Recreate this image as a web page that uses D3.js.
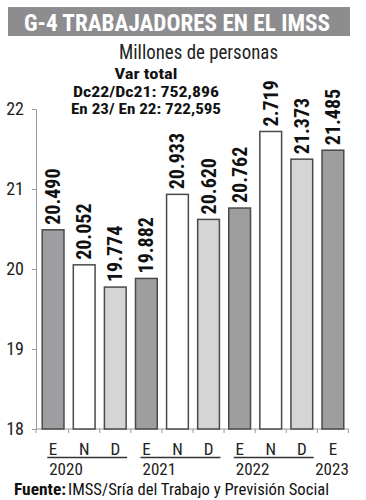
<!DOCTYPE html>
<html>
<head>
<meta charset="utf-8">
<script src="https://cdn.jsdelivr.net/npm/d3@7"></script>
<style>
  body { margin: 0; background: #fff; }
  svg { display: block; }
</style>
</head>
<body>
<svg id="chart"></svg>
<script>
// data
const months = ["E", "N", "D", "E", "N", "D", "E", "N", "D", "E"];
const values = [20.490, 20.052, 19.774, 19.882, 20.933, 20.620, 20.762, 21.719, 21.373, 21.485];
const valueLabels = ["20.490", "20.052", "19.774", "19.882", "20.933", "20.620", "20.762", "2.719", "21.373", "21.485"];
const years = ["2020", "2021", "2022", "2023"];
const yearFirst = [0, 3, 6, 9];
const yearLast = [2, 5, 8, 9];
const yTicks = [18, 19, 20, 21, 22];
const noteLines = ["Var total", "Dc22/Dc21: 752,896", "En 23/ En 22: 722,595"];

const w = 366, h = 500;
const narrow = "'Liberation Sans Narrow', 'Roboto Condensed', 'DejaVu Sans Condensed', sans-serif";
const fillFor = { E: "#9e9ea0", N: "#ffffff", D: "#d5d5d7" };

const svg = d3.select("#chart").attr("width", w).attr("height", h);

// title bar
svg.append("rect")
    .attr("x", 8).attr("y", 7)
    .attr("width", 342).attr("height", 29)
    .attr("fill", "#8d8d8f");

svg.append("text")
    .attr("x", 24).attr("y", 31)
    .attr("font-family", narrow)
    .attr("font-weight", "bold")
    .attr("font-size", 24)
    .attr("fill", "#fff")
    .attr("textLength", 306)
    .attr("lengthAdjust", "spacingAndGlyphs")
    .text("G-4 TRABAJADORES EN EL IMSS");

svg.append("text")
    .attr("x", 119).attr("y", 59)
    .attr("font-family", narrow)
    .attr("font-size", 20)
    .attr("fill", "#222")
    .attr("textLength", 159)
    .attr("lengthAdjust", "spacingAndGlyphs")
    .text("Millones de personas");

const noteWidths = [63, 146, 150];
svg.append("g")
    .selectAll("text")
    .data(noteLines)
    .join("text")
    .attr("x", (d, i) => 146 - noteWidths[i] / 2)
    .attr("y", (d, i) => 79 + i * 17.5)
    .attr("font-family", narrow)
    .attr("font-weight", "bold")
    .attr("font-size", 15)
    .attr("fill", "#111")
    .attr("textLength", (d, i) => noteWidths[i])
    .attr("lengthAdjust", "spacingAndGlyphs")
    .text(d => d);

// scales
const margin = { top: 109, right: 16, bottom: 71, left: 36 };

const xScale = d3.scaleBand()
    .domain(d3.range(values.length))
    .range([margin.left, w - margin.right])
    .paddingInner(0.3)
    .paddingOuter(0.2);

const yScale = d3.scaleLinear()
    .domain([18, 22])
    .range([h - margin.bottom, margin.top]);

// y axis
const yAxis = g => g
    .attr("transform", `translate(${margin.left},0)`)
    .call(d3.axisLeft(yScale).tickValues(yTicks).tickSize(4).tickSizeOuter(0).tickFormat(d3.format("d")))
    .call(g => g.select(".domain").attr("stroke", "#999"))
    .call(g => g.selectAll(".tick line").attr("stroke", "#999"))
    .call(g => g.selectAll(".tick text")
        .attr("x", -12)
        .attr("font-family", narrow)
        .attr("font-size", 18)
        .attr("fill", "#222"));

svg.append("g").call(yAxis);

// bottom baseline with ticks between bars
const base = yScale(18);
const step = xScale.step();
const gap = step * xScale.paddingInner();

svg.append("line")
    .attr("x1", margin.left).attr("x2", xScale(values.length - 1) + xScale.bandwidth() + gap / 2)
    .attr("y1", base).attr("y2", base)
    .attr("stroke", "#999");

svg.append("g")
    .selectAll("line")
    .data(d3.range(values.length + 1))
    .join("line")
    .attr("x1", i => i === 0 ? margin.left : xScale(i - 1) + xScale.bandwidth() + gap / 2)
    .attr("x2", i => i === 0 ? margin.left : xScale(i - 1) + xScale.bandwidth() + gap / 2)
    .attr("y1", base).attr("y2", base + 4)
    .attr("stroke", "#999");

// bars
svg.append("g")
    .selectAll("rect")
    .data(values)
    .join("rect")
    .attr("x", (d, i) => xScale(i))
    .attr("y", d => yScale(d))
    .attr("width", xScale.bandwidth())
    .attr("height", d => base - yScale(d))
    .attr("fill", (d, i) => fillFor[months[i]])
    .attr("stroke", "#4a4a4a")
    .attr("stroke-width", 1.5);

// value labels
svg.append("g")
    .selectAll("text")
    .data(values)
    .join("text")
    .attr("transform", (d, i) => `translate(${xScale(i) + xScale.bandwidth() / 2 + 7},${yScale(d) - 5}) rotate(-90)`)
    .attr("font-family", narrow)
    .attr("font-weight", "bold")
    .attr("font-size", 20)
    .attr("fill", "#111")
    .text((d, i) => valueLabels[i]);

// month labels
svg.append("g")
    .selectAll("text")
    .data(months)
    .join("text")
    .attr("x", (d, i) => xScale(i) + xScale.bandwidth() / 2)
    .attr("y", 455)
    .attr("text-anchor", "middle")
    .attr("font-family", narrow)
    .attr("font-size", 17)
    .attr("fill", "#222")
    .text(d => d);

// year underlines and labels
svg.append("g")
    .selectAll("line")
    .data(years.filter((d, i) => yearLast[i] > yearFirst[i]))
    .join("line")
    .attr("x1", d => xScale(yearFirst[years.indexOf(d)]) + 5)
    .attr("x2", d => xScale(yearLast[years.indexOf(d)]) + xScale.bandwidth() + 1)
    .attr("y1", 457.5).attr("y2", 457.5)
    .attr("stroke", "#333")
    .attr("stroke-width", 1.3);

svg.append("g")
    .selectAll("text")
    .data(years)
    .join("text")
    .attr("x", (d, i) => i === years.length - 1
        ? xScale(yearFirst[i]) + xScale.bandwidth() + 5
        : xScale(yearFirst[i]) + 7)
    .attr("y", 475)
    .attr("text-anchor", (d, i) => i === years.length - 1 ? "end" : "start")
    .attr("font-family", narrow)
    .attr("font-size", 17)
    .attr("fill", "#222")
    .text(d => d);

// source
svg.append("text")
    .attr("x", 14).attr("y", 495)
    .attr("font-family", narrow)
    .attr("font-weight", "bold")
    .attr("font-size", 17)
    .attr("fill", "#111")
    .attr("textLength", 52)
    .attr("lengthAdjust", "spacingAndGlyphs")
    .text("Fuente:");

svg.append("text")
    .attr("x", 68).attr("y", 495)
    .attr("font-family", narrow)
    .attr("font-size", 17)
    .attr("fill", "#111")
    .attr("textLength", 261)
    .attr("lengthAdjust", "spacingAndGlyphs")
    .text("IMSS/Sría del Trabajo y Previsión Social");
</script>
</body>
</html>
